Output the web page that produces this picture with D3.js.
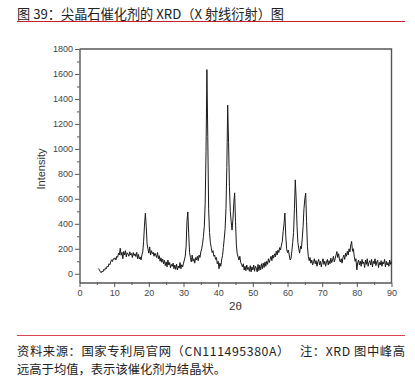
<!DOCTYPE html>
<html>
<head>
<meta charset="utf-8">
<script src="https://cdn.jsdelivr.net/npm/d3@7"></script>
<style>
  body { margin: 0; background: #fff; }
  text { font-family: "Liberation Sans", Arial, sans-serif; }
  .cjk { font-family: "Noto Sans CJK SC", sans-serif; }
</style>
</head>
<body>
<div id="container"></div>
<script>
// XRD scan: starts at 5.5 deg 2theta, one reading every 0.25 deg
var scanStart = 5.5, scanStep = 0.25;
var intensity = [
  42, 30,
  18, 8, 22, 15,        // 6
  35, 28, 48, 40,       // 7
  62, 55, 80, 72,       // 8
  95, 112, 98, 120,     // 9
  115, 128, 110, 140,   // 10
  132, 165, 150, 205,   // 11
  148, 172, 120, 178,   // 12
  150, 185, 135, 168,   // 13
  158, 140, 176, 150,   // 14
  162, 130, 170, 145,   // 15
  160, 138, 172, 120,   // 16
  155, 118, 135, 110,   // 17
  150, 175, 260, 390,   // 18
  485, 380, 240, 200,   // 19
  165, 215, 150, 185,   // 20
  160, 172, 140, 165,   // 21
  150, 130, 170, 120,   // 22
  145, 100, 128, 92,    // 23
  118, 80, 108, 65,     // 24
  95, 55, 110, 70,      // 25
  90, 48, 75, 60,       // 26
  85, 40, 70, 35,       // 27
  78, 30, 62, 45,       // 28
  90, 40, 72, 55,       // 29
  85, 110, 140, 220,    // 30
  420, 495, 320, 170,   // 31
  130, 95, 150, 100,    // 32
  120, 85, 130, 110,    // 33
  140, 105, 150, 130,   // 34
  175, 200, 240, 300,   // 35
  380, 560, 980, 1635,  // 36
  1100, 520, 330, 250,  // 37
  210, 170, 185, 140,   // 38
  150, 115, 130, 80,    // 39
  100, 40, 85, 60,      // 40
  110, 145, 210, 280,   // 41
  360, 520, 850, 1350,  // 42
  1050, 700, 500, 420,  // 43
  350, 430, 560, 648,   // 44
  420, 230, 160, 135,   // 45
  110, 140, 90, 75,     // 46
  55, 80, 30, 60,       // 47
  25, 70, 35, 50,       // 48
  20, 65, 15, 55,       // 49
  30, 70, 20, 60,       // 50
  45, 15, 75, 25,       // 51
  68, 30, 80, 40,       // 52
  85, 50, 95, 60,       // 53
  100, 75, 120, 90,     // 54
  115, 140, 105, 150,   // 55
  125, 160, 135, 180,   // 56
  150, 190, 170, 210,   // 57
  190, 230, 260, 340,   // 58
  400, 486, 300, 200,   // 59
  170, 190, 150, 110,   // 60
  120, 180, 250, 330,   // 61
  520, 752, 600, 380,   // 62
  250, 200, 165, 220,   // 63
  200, 280, 380, 520,   // 64
  600, 646, 420, 220,   // 65
  140, 105, 130, 85,    // 66
  110, 70, 95, 120,     // 67
  80, 105, 60, 95,      // 68
  115, 70, 100, 55,     // 69
  90, 120, 75, 100,     // 70
  60, 95, 115, 70,      // 71
  105, 80, 125, 90,     // 72
  110, 140, 95, 120,    // 73
  150, 178, 130, 160,   // 74
  110, 95, 120, 85,     // 75
  130, 150, 115, 165,   // 76
  140, 180, 150, 200,   // 77
  175, 230, 259, 180,   // 78
  200, 140, 100, 120,   // 79
  30, 90, 110, 70,      // 80
  100, 60, 115, 80,     // 81
  95, 50, 110, 75,      // 82
  120, 60, 90, 105,     // 83
  70, 115, 55, 100,     // 84
  80, 120, 65, 95,      // 85
  110, 50, 90, 70,      // 86
  105, 60, 95, 80,      // 87
  115, 55, 100, 70,     // 88
  90, 60, 110, 75,      // 89
  95                    // 90
];
var xTicks = [0, 10, 20, 30, 40, 50, 60, 70, 80, 90];
var yTicks = [0, 200, 400, 600, 800, 1000, 1200, 1400, 1600, 1800];
var titleText = "图 39：尖晶石催化剂的 XRD（X 射线衍射）图";
var noteLines = [
  "资料来源：国家专利局官网（CN111495380A）　  注：XRD 图中峰高",
  "远高于均值，表示该催化剂为结晶状。"
];

function drawChart() {
  var W = 415, H = 380;
  var svg = d3.select("#container").append("svg")
    .attr("width", W).attr("height", H);

  // title + red rule
  svg.append("text").attr("class", "cjk")
    .attr("x", 17).attr("y", 18.5)
    .attr("font-size", 13.2).attr("fill", "#222")
    .text(titleText);
  svg.append("line").attr("x1", 17).attr("x2", 405).attr("y1", 21.5).attr("y2", 21.5)
    .attr("stroke", "#c8202a").attr("stroke-width", 1);

  // plot box
  var pl = 79.5, pr = 391.5, pt = 49, pb = 282.5;
  var x = d3.scaleLinear().domain([0, 90]).range([pl, pr]);
  var y = d3.scaleLinear().domain([-70, 1800]).range([pb, pt]);

  var data = intensity.map(function(v, i) { return { t: scanStart + i * scanStep, v: v }; });

  // frame (top + right)
  svg.append("path")
    .attr("d", "M" + pl + "," + pt + "H" + pr + "V" + pb)
    .attr("fill", "none").attr("stroke", "#555").attr("stroke-width", 1.4);

  // minor ticks
  svg.append("g").attr("transform", "translate(0," + pb + ")")
    .call(d3.axisBottom(x).tickValues(d3.range(5, 90, 10)).tickSize(2.5).tickFormat(""))
    .call(function(g) { g.select(".domain").remove(); g.selectAll("line").attr("stroke", "#555"); });
  svg.append("g").attr("transform", "translate(" + pl + ",0)")
    .call(d3.axisLeft(y).tickValues(d3.range(100, 1800, 200)).tickSize(2.5).tickFormat(""))
    .call(function(g) { g.select(".domain").remove(); g.selectAll("line").attr("stroke", "#555"); });

  // major axes
  var xAxis = svg.append("g").attr("transform", "translate(0," + pb + ")")
    .call(d3.axisBottom(x).tickValues(xTicks).tickFormat(d3.format("d"))
      .tickSize(4.5).tickPadding(3).tickSizeOuter(0));
  var yAxis = svg.append("g").attr("transform", "translate(" + pl + ",0)")
    .call(d3.axisLeft(y).tickValues(yTicks).tickFormat(d3.format("d"))
      .tickSize(4.5).tickPadding(2).tickSizeOuter(0));
  [xAxis, yAxis].forEach(function(g) {
    g.select(".domain").attr("stroke", "#555").attr("stroke-width", 1.4);
    g.selectAll(".tick line").attr("stroke", "#555");
    g.selectAll(".tick text").attr("font-size", 9).attr("fill", "#444")
      .attr("font-family", "Liberation Sans, Arial, sans-serif");
  });

  // the trace
  svg.append("path")
    .datum(data)
    .attr("fill", "none")
    .attr("stroke", "#1a1a1a")
    .attr("stroke-width", 1)
    .attr("d", d3.line().x(function(d) { return x(d.t); }).y(function(d) { return y(d.v); }));

  // axis titles
  svg.append("text")
    .attr("transform", "translate(45,169) rotate(-90)")
    .attr("text-anchor", "middle").attr("font-size", 11).attr("fill", "#333")
    .text("Intensity");
  svg.append("text")
    .attr("x", (pl + pr) / 2).attr("y", 310)
    .attr("text-anchor", "middle").attr("font-size", 11.5).attr("fill", "#333")
    .text("2θ");

  // source note
  svg.append("line").attr("x1", 17).attr("x2", 405).attr("y1", 335.5).attr("y2", 335.5)
    .attr("stroke", "#d9444c").attr("stroke-width", 1);
  svg.append("text").attr("class", "cjk")
    .attr("x", 17).attr("y", 355.5).attr("font-size", 12.3).attr("fill", "#222")
    .attr("textLength", 388).attr("lengthAdjust", "spacing")
    .text(noteLines[0]);
  svg.append("text").attr("class", "cjk")
    .attr("x", 17).attr("y", 374).attr("font-size", 12.3).attr("fill", "#222")
    .text(noteLines[1]);
}

drawChart();
</script>
</body>
</html>
